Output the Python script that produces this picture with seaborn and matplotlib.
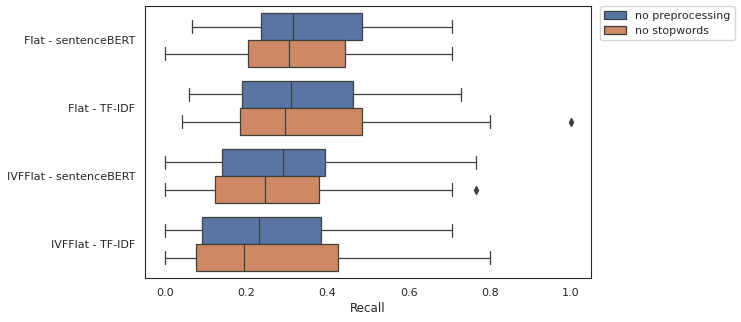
import matplotlib
matplotlib.use("Agg")
import matplotlib.pyplot as plt
import seaborn as sns
import pandas as pd

methods = ["Flat - sentenceBERT", "Flat - TF-IDF", "IVFFlat - sentenceBERT", "IVFFlat - TF-IDF"]
hues = ["no preprocessing", "no stopwords"]

# Recall values per group (chosen so the box statistics match the reference)
flat_sbert_nopre = [0.067, 0.15, 0.235, 0.28, 0.316, 0.40, 0.486, 0.60, 0.706]
flat_sbert_nostop = [0.0, 0.10, 0.205, 0.25, 0.304, 0.38, 0.444, 0.58, 0.706]
flat_tfidf_nopre = [0.059, 0.12, 0.190, 0.25, 0.310, 0.39, 0.462, 0.60, 0.728]
flat_tfidf_nostop = [0.042, 0.11, 0.183, 0.24, 0.294, 0.40, 0.486, 0.800, 1.0]
ivf_sbert_nopre = [0.0, 0.07, 0.141, 0.22, 0.290, 0.34, 0.393, 0.58, 0.765]
ivf_sbert_nostop = [0.0, 0.06, 0.1235, 0.19, 0.247, 0.31, 0.378, 0.706, 0.765]
ivf_tfidf_nopre = [0.0, 0.05, 0.0914, 0.16, 0.232, 0.31, 0.385, 0.55, 0.706]
ivf_tfidf_nostop = [0.0, 0.04, 0.0766, 0.13, 0.193, 0.31, 0.425, 0.60, 0.800]

groups = [
    (methods[0], hues[0], flat_sbert_nopre),
    (methods[0], hues[1], flat_sbert_nostop),
    (methods[1], hues[0], flat_tfidf_nopre),
    (methods[1], hues[1], flat_tfidf_nostop),
    (methods[2], hues[0], ivf_sbert_nopre),
    (methods[2], hues[1], ivf_sbert_nostop),
    (methods[3], hues[0], ivf_tfidf_nopre),
    (methods[3], hues[1], ivf_tfidf_nostop),
]
rows = []
for m, h, vals in groups:
    for v in vals:
        rows.append({"method": m, "preprocessing": h, "Recall": v})
df = pd.DataFrame(rows)

sns.set_style("white")
plt.rcParams["font.family"] = ["DejaVu Sans"]

fig = plt.figure(figsize=(7.41, 3.22), dpi=100)
ax = fig.add_axes([0.1957, 0.137, 0.602, 0.844])
sns.boxplot(data=df, x="Recall", y="method", hue="preprocessing", order=methods,
            hue_order=hues, orient="h", ax=ax, palette="deep", saturation=0.75,
            linewidth=0.9, linecolor="#3f3f3f",
            flierprops=dict(marker="d", markerfacecolor="#3f3f3f",
                            markeredgecolor="#3f3f3f", markersize=4))
ax.set_ylabel("")
ax.set_xlabel("Recall", fontsize=8.6, labelpad=3)
ax.set_xticks([0.0, 0.2, 0.4, 0.6, 0.8, 1.0])
ax.set_xlim(-0.05, 1.05)
ax.tick_params(axis="both", labelsize=8.0)
ax.legend(bbox_to_anchor=(1.02, 1), loc="upper left", borderaxespad=0, fontsize=7.9)
fig.savefig("out.png", dpi=100)
